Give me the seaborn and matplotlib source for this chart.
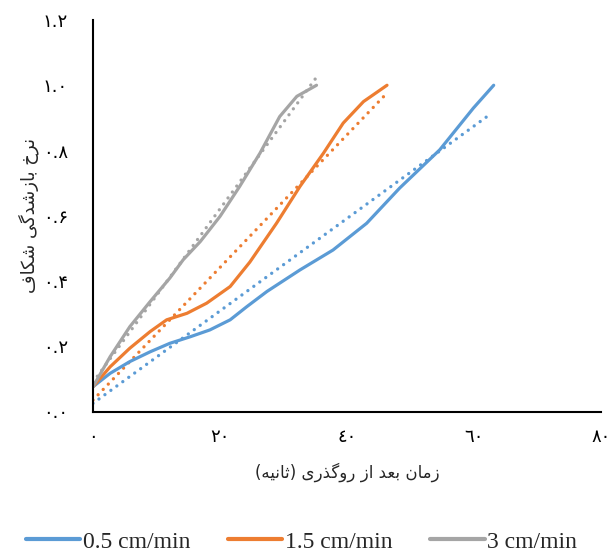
import matplotlib
matplotlib.use("Agg")
import matplotlib.pyplot as plt
import seaborn as sns
import pandas as pd

# ---------------- data ----------------
blue_x = [0, 2.7, 5.8, 9.0, 12.1, 15.3, 18.4, 21.6, 24.2, 27.4, 32.6, 37.8, 43.1, 48.3, 54.6, 59.9, 63.1]
blue_y = [0.076, 0.117, 0.153, 0.183, 0.209, 0.229, 0.250, 0.281, 0.321, 0.368, 0.434, 0.495, 0.577, 0.685, 0.802, 0.930, 1.000]

orange_x = [0, 2.7, 5.8, 9.0, 11.6, 14.8, 17.9, 21.6, 24.7, 28.9, 32.6, 36.3, 39.4, 42.6, 46.3]
orange_y = [0.076, 0.137, 0.194, 0.245, 0.281, 0.301, 0.332, 0.383, 0.458, 0.577, 0.690, 0.792, 0.884, 0.950, 1.000]

gray_x = [0, 2.7, 5.8, 9.0, 12.1, 14.2, 16.9, 20.0, 23.1, 26.3, 29.4, 32.1, 35.2]
gray_y = [0.076, 0.168, 0.260, 0.337, 0.409, 0.465, 0.521, 0.598, 0.690, 0.792, 0.904, 0.966, 1.000]

# linear trend lines (start / end points)
blue_trend_x = [0, 62.4]
blue_trend_y = [0.025, 0.909]
orange_trend_x = [0, 45.9]
orange_trend_y = [0.035, 0.968]
gray_trend_x = [0, 35.1]
gray_trend_y = [0.090, 1.022]

series_names = ["0.5 cm/min", "1.5 cm/min", "3 cm/min"]
colors = ["#5B9BD5", "#ED7D31", "#A5A5A5"]

x_ticks = [0, 20, 40, 60, 80]
x_tick_labels = ["۰", "۲۰", "٤۰", "٦۰", "۸۰"]
y_ticks = [0.0, 0.2, 0.4, 0.6, 0.8, 1.0, 1.2]
y_tick_labels = ["۰.۰", "۰.۲", "۰.۴", "۰.۶", "۰.۸", "۱.۰", "۱.۲"]

x_label = "زمان بعد از روگذری (ثانیه)"
y_label = "نرخ بازشدگی شکاف"

# ---------------- minimal Arabic/Persian shaping ----------------
FORMS = {
    "ا": ("\uFE8D", "\uFE8E", None, None),
    "ب": ("\uFE8F", "\uFE90", "\uFE91", "\uFE92"),
    "ث": ("\uFE99", "\uFE9A", "\uFE9B", "\uFE9C"),
    "خ": ("\uFEA5", "\uFEA6", "\uFEA7", "\uFEA8"),
    "د": ("\uFEA9", "\uFEAA", None, None),
    "ذ": ("\uFEAB", "\uFEAC", None, None),
    "ر": ("\uFEAD", "\uFEAE", None, None),
    "ز": ("\uFEAF", "\uFEB0", None, None),
    "ش": ("\uFEB5", "\uFEB6", "\uFEB7", "\uFEB8"),
    "ع": ("\uFEC9", "\uFECA", "\uFECB", "\uFECC"),
    "ف": ("\uFED1", "\uFED2", "\uFED3", "\uFED4"),
    "م": ("\uFEE1", "\uFEE2", "\uFEE3", "\uFEE4"),
    "ن": ("\uFEE5", "\uFEE6", "\uFEE7", "\uFEE8"),
    "ه": ("\uFEE9", "\uFEEA", "\uFEEB", "\uFEEC"),
    "و": ("\uFEED", "\uFEEE", None, None),
    "ک": ("\uFB8E", "\uFB8F", "\uFB90", "\uFB91"),
    "گ": ("\uFB92", "\uFB93", "\uFB94", "\uFB95"),
    "ی": ("\uFBFC", "\uFBFD", "\uFBFE", "\uFBFF"),
}


def shape_rtl(text):
    out = []
    n = len(text)
    for i, c in enumerate(text):
        if c not in FORMS:
            out.append(c)
            continue
        prev = text[i - 1] if i > 0 else None
        nxt = text[i + 1] if i + 1 < n else None
        join_prev = prev in FORMS and FORMS[prev][2] is not None
        join_next = FORMS[c][2] is not None and nxt in FORMS
        iso, fin, ini, med = FORMS[c]
        if join_prev and join_next:
            out.append(med)
        elif join_prev:
            out.append(fin)
        elif join_next:
            out.append(ini)
        else:
            out.append(iso)
    vis = "".join(reversed(out))
    mirror = {"(": ")", ")": "("}
    return "".join(mirror.get(ch, ch) for ch in vis)


# ---------------- plot ----------------
sns.set_style("white")
plt.rcParams["font.family"] = ["DejaVu Sans"]

fig = plt.figure(figsize=(6.09, 5.57), dpi=100)
ax = fig.add_axes([93 / 609, 1 - 411.5 / 557, (601 - 93) / 609, (411.5 - 20) / 557])

solid = [(blue_x, blue_y), (orange_x, orange_y), (gray_x, gray_y)]
trends = [(blue_trend_x, blue_trend_y), (orange_trend_x, orange_trend_y), (gray_trend_x, gray_trend_y)]

handles = []
for (tx, ty), col in zip(trends, colors):
    df_t = pd.DataFrame({"x": tx, "y": ty})
    sns.lineplot(data=df_t, x="x", y="y", ax=ax, color=col, linewidth=2.4,
                 linestyle=(0, (0.01, 2.2)), dash_capstyle="round", sort=False)
for (xs, ys), col in zip(solid, colors):
    df = pd.DataFrame({"x": xs, "y": ys})
    sns.lineplot(data=df, x="x", y="y", ax=ax, color=col, linewidth=2.3, sort=False,
                 solid_capstyle="round", solid_joinstyle="round")
    handles.append(ax.lines[-1])

ax.set_xlim(0, 80)
ax.set_ylim(0, 1.2)
ax.set_xticks(x_ticks)
ax.set_xticklabels(x_tick_labels, fontsize=13)
ax.set_yticks(y_ticks)
ax.set_yticklabels(y_tick_labels, fontsize=13)
ax.tick_params(axis="both", length=0, colors="black")
ax.tick_params(axis="x", pad=12)
ax.tick_params(axis="y", pad=18)

for side in ["top", "right"]:
    ax.spines[side].set_visible(False)
for side in ["left", "bottom"]:
    ax.spines[side].set_color("black")
    ax.spines[side].set_linewidth(1.5)

ax.set_xlabel(shape_rtl(x_label), fontsize=12, labelpad=12)
ax.set_ylabel(shape_rtl(y_label), fontsize=13, labelpad=3)

leg = fig.legend(handles, series_names, loc="center", bbox_to_anchor=(0.495, 0.027), ncol=3,
                 frameon=False, handlelength=2.3, handletextpad=0.12, columnspacing=1.6,
                 prop={"family": "Liberation Serif", "size": 17})
for line in leg.get_lines():
    line.set_linewidth(3)

fig.savefig("out.png", dpi=100)
